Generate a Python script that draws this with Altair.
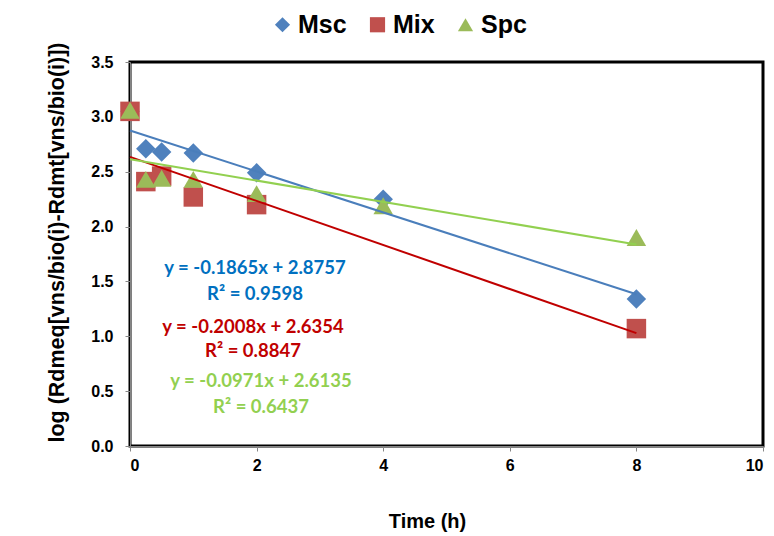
import altair as alt
import pandas as pd

# Measured series
time_msc = [0, 0.25, 0.5, 1, 2, 4, 8]
val_msc = [3.05, 2.71, 2.68, 2.67, 2.49, 2.25, 1.34]

time_mix = [0, 0.25, 0.5, 1, 2, 8]
val_mix = [3.05, 2.41, 2.46, 2.27, 2.20, 1.07]

time_spc = [0, 0.25, 0.5, 1, 2, 4, 8]
val_spc = [3.06, 2.43, 2.44, 2.43, 2.30, 2.19, 1.90]

series = ["Msc", "Mix", "Spc"]
marker_colors = ["#4F81BD", "#C0504D", "#9BBB59"]
line_colors = ["#4A7EBB", "#C00000", "#92D050"]
text_colors = ["#0070C0", "#C00000", "#92D050"]
shapes = ["diamond", "square", "triangle-up"]

# Linear fits (slope, intercept, R²)
slopes = [-0.1865, -0.2008, -0.0971]
intercepts = [2.8757, 2.6354, 2.6135]
r2 = [0.9598, 0.8847, 0.6437]
fit_range = [0, 8]

rows = []
for name, xs, ys in [("Msc", time_msc, val_msc), ("Mix", time_mix, val_mix), ("Spc", time_spc, val_spc)]:
    for x, y in zip(xs, ys):
        rows.append({"series": name, "time": x, "value": y})
points = pd.DataFrame(rows)

fit_rows = []
for name, m, b in zip(series, slopes, intercepts):
    for x in fit_range:
        fit_rows.append({"series": name, "time": x, "value": b + m * x})
fits = pd.DataFrame(fit_rows)

x_scale = alt.Scale(domain=[0, 10], nice=False)
y_scale = alt.Scale(domain=[0, 3.5], nice=False)

x_axis = alt.Axis(title="Time (h)", values=[0, 2, 4, 6, 8, 10], format="d",
                  titlePadding=38, labelPadding=6, titleX=297, titleAlign="center")
y_axis = alt.Axis(title="log (Rdmeq[vns/bio(i)-Rdmt[vns/bio(i)])",
                  values=[0, 0.5, 1, 1.5, 2, 2.5, 3, 3.5], format=".1f",
                  titlePadding=22, labelPadding=12, titleY=180, titleAlign="center")

pts = alt.Chart(points).mark_point(filled=True, opacity=1, size=380, strokeWidth=0).encode(
    x=alt.X("time:Q", scale=x_scale, axis=x_axis),
    y=alt.Y("value:Q", scale=y_scale, axis=y_axis),
    fill=alt.Fill("series:N", scale=alt.Scale(domain=series, range=marker_colors),
                  legend=alt.Legend(title=None, orient="none", direction="horizontal",
                                    legendX=140, legendY=-50, symbolSize=230,
                                    labelFontSize=25, labelFont="Liberation Sans",
                                    labelFontWeight="bold", columnPadding=18,
                                    symbolOpacity=1, symbolStrokeWidth=0, labelOffset=3)),
    shape=alt.Shape("series:N", scale=alt.Scale(domain=series, range=shapes)),
)

lines = alt.Chart(fits).mark_line(strokeWidth=2).encode(
    x=alt.X("time:Q", scale=x_scale),
    y=alt.Y("value:Q", scale=y_scale),
    stroke=alt.Stroke("series:N", scale=alt.Scale(domain=series, range=line_colors), legend=None),
)

# Fit equations
label_rows = []
for name, m, b, r in zip(series, slopes, intercepts, r2):
    label_rows.append({"series": name,
                       "eq": f"y = {m:.4f}x + {b:.4f}",
                       "r2": f"R² = {r:.4f}"})
labels = pd.DataFrame(label_rows)

eq_pos = {"Msc": (125, 206, 232), "Mix": (123, 265, 289), "Spc": (131, 319, 345)}
text_layers = []
for name, col in zip(series, text_colors):
    cx, ye, yr = eq_pos[name]
    base = alt.Chart(labels).transform_filter(alt.datum.series == name)
    style = dict(fontSize=18.5, fontWeight="bold", font="Lato", color=col,
                 align="center", baseline="middle")
    text_layers.append(base.mark_text(**style).encode(
        text="eq:N", x=alt.value(cx), y=alt.value(ye)))
    text_layers.append(base.mark_text(**style).encode(
        text="r2:N", x=alt.value(cx), y=alt.value(yr)))

chart = alt.layer(pts, lines, *text_layers).properties(
    width=633, height=384,
    autosize=alt.AutoSizeParams(type="none"),
    padding={"left": 130, "top": 62, "right": 11, "bottom": 90},
).configure_view(
    stroke="black", strokeWidth=3
).configure_axis(
    labelFont="Liberation Sans", labelFontSize=16, labelFontWeight="bold",
    labelColor="black", titleFont="Liberation Sans", titleFontWeight="bold",
    titleFontSize=20, titleColor="black", grid=False,
    domainColor="#868686", tickColor="#868686", tickSize=5, domainWidth=1,
).configure_axisY(titleFontSize=21.5)

chart.save("out.html", embed_options={"renderer": "svg", "actions": False})
